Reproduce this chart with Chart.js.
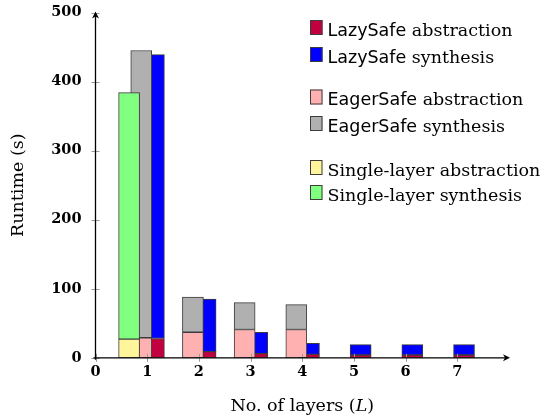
<!DOCTYPE html>
<html>
<head>
<meta charset="utf-8">
<script src="https://cdn.jsdelivr.net/npm/chart.js@4.4.0/dist/chart.umd.min.js"></script>
<style>
  html, body { margin: 0; padding: 0; background: #fff; }
  #runtimeChart { display: block; }
</style>
</head>
<body>
<canvas id="runtimeChart" width="548" height="418"></canvas>
<script>
// Values (seconds)
const lazyLayers = [1, 2, 3, 4, 5, 6, 7];
const lazyAbstraction = [28, 9, 6, 5, 4, 4, 4];
const lazySynthesis = [411, 76, 31, 16, 15, 15, 15];

const eagerLayers = [1, 2, 3, 4];
const eagerAbstraction = [29, 37, 41, 41];
const eagerSynthesis = [416, 51, 39, 36];

const singleLayers = [1];
const singleAbstraction = [27];
const singleSynthesis = [357];

const xTickValues = [0, 1, 2, 3, 4, 5, 6, 7];
const yTickValues = [0, 100, 200, 300, 400, 500];

const serif = "'DejaVu Serif', serif";
const sans = "'DejaVu Sans', sans-serif";

// builds one stacked bar segment series, shifted beside the layer tick
function series(method, phase, layers, values, shift, color, order, sansName) {
    return {
        label: method + " " + phase,
        method: method,
        phase: phase,
        sansName: sansName,
        data: layers.map((l, i) => ({ x: l + shift, y: values[i] })),
        backgroundColor: color,
        borderColor: "#3c3c3c",
        borderWidth: 1,
        borderSkipped: false,
        stack: method,
        order: order
    };
}

const datasets = [
    series("LazySafe", "abstraction", lazyLayers, lazyAbstraction, 0.13, "#c20040", 3, true),
    series("LazySafe", "synthesis", lazyLayers, lazySynthesis, 0.13, "#0000ff", 3, true),
    series("EagerSafe", "abstraction", eagerLayers, eagerAbstraction, -0.115, "#ffb0b0", 2, true),
    series("EagerSafe", "synthesis", eagerLayers, eagerSynthesis, -0.115, "#b0b0b0", 2, true),
    series("Single-layer", "abstraction", singleLayers, singleAbstraction, -0.35, "#fff59a", 1, false),
    series("Single-layer", "synthesis", singleLayers, singleSynthesis, -0.35, "#80ff80", 1, false)
];

// axis lines with arrows, tick marks, x title and legend
const decorations = {
    id: "decorations",
    afterDatasetsDraw(chart) {
        const { ctx, chartArea: a, scales } = chart;
        ctx.save();
        // tick marks
        ctx.strokeStyle = "#999";
        ctx.lineWidth = 1;
        xTickValues.forEach(v => {
            const x = Math.round(scales.x.getPixelForValue(v)) + 0.5;
            ctx.beginPath();
            ctx.moveTo(x, a.bottom - 4);
            ctx.lineTo(x, a.bottom + 4);
            ctx.stroke();
        });
        yTickValues.forEach(v => {
            const y = Math.round(scales.y.getPixelForValue(v)) + 0.5;
            ctx.beginPath();
            ctx.moveTo(a.left - 4, y);
            ctx.lineTo(a.left + 4, y);
            ctx.stroke();
        });
        // axes
        ctx.strokeStyle = "#000";
        ctx.fillStyle = "#000";
        ctx.lineWidth = 1.3;
        ctx.beginPath();
        ctx.moveTo(a.left - 2, a.bottom);
        ctx.lineTo(a.right - 2, a.bottom);
        ctx.moveTo(a.left, a.bottom + 2);
        ctx.lineTo(a.left, a.top + 2);
        ctx.stroke();
        // arrow heads
        ctx.beginPath();
        ctx.moveTo(a.right + 1, a.bottom);
        ctx.lineTo(a.right - 6, a.bottom - 3.5);
        ctx.lineTo(a.right - 4, a.bottom);
        ctx.lineTo(a.right - 6, a.bottom + 3.5);
        ctx.closePath();
        ctx.fill();
        ctx.beginPath();
        ctx.moveTo(a.left, a.top - 1);
        ctx.lineTo(a.left - 3.5, a.top + 6);
        ctx.lineTo(a.left, a.top + 4);
        ctx.lineTo(a.left + 3.5, a.top + 6);
        ctx.closePath();
        ctx.fill();
        ctx.restore();
    },
    afterDraw(chart) {
        const { ctx, chartArea: a } = chart;
        ctx.save();
        ctx.fillStyle = "#000";
        ctx.textBaseline = "alphabetic";

        // x axis title with italic L
        const parts = [
            { t: "No. of layers (", f: "17.5px " + serif },
            { t: "L", f: "italic 17.5px " + serif },
            { t: ")", f: "17.5px " + serif }
        ];
        let total = 0;
        parts.forEach(p => { ctx.font = p.f; p.w = ctx.measureText(p.t).width; total += p.w; });
        let x = (a.left + a.right) / 2 - total / 2;
        parts.forEach(p => { ctx.font = p.f; ctx.fillText(p.t, x, 411); x += p.w; });

        // legend, grouped by method
        const rows = [27.5, 54.5, 97, 123.5, 167.5, 192.5];
        chart.data.datasets.forEach((ds, i) => {
            const cy = rows[i];
            ctx.fillStyle = ds.backgroundColor;
            ctx.fillRect(310, cy - 7.5, 12.5, 15);
            ctx.strokeStyle = "#3c3c3c";
            ctx.lineWidth = 1;
            ctx.strokeRect(310.5, cy - 7, 11.5, 14);
            ctx.fillStyle = "#000";
            ctx.font = "17.5px " + (ds.sansName ? sans : serif);
            ctx.fillText(ds.method, 327.5, cy + 8);
            const w = ctx.measureText(ds.method).width;
            ctx.font = "17.5px " + serif;
            ctx.fillText(" " + ds.phase, 327.5 + w, cy + 8);
        });
        ctx.restore();
    }
};

new Chart(document.getElementById("runtimeChart"), {
    type: "bar",
    data: { datasets: datasets },
    options: {
        responsive: false,
        animation: false,
        devicePixelRatio: 1,
        grouped: false,
        barThickness: 21,
        layout: { padding: { left: 0, right: 39, top: 12.5, bottom: 0 } },
        plugins: {
            legend: { display: false },
            tooltip: { enabled: false }
        },
        scales: {
            x: {
                type: "linear",
                offset: false,
                min: 0,
                max: 8,
                grid: { display: false, drawTicks: false },
                border: { display: false },
                afterBuildTicks: s => { s.ticks = xTickValues.map(v => ({ value: v })); },
                afterFit: s => { s.height = 60.2; s.paddingLeft = 0; s.paddingRight = 0; },
                ticks: {
                    padding: 6,
                    color: "#000",
                    font: { family: serif, weight: "bold", size: 14.5 }
                }
            },
            y: {
                stacked: true,
                min: 0,
                max: 500,
                grid: { display: false, drawTicks: false },
                border: { display: false },
                afterBuildTicks: s => { s.ticks = yTickValues.map(v => ({ value: v })); },
                afterFit: s => { s.width = 95.5; s.paddingTop = 0; s.paddingBottom = 0; },
                ticks: {
                    padding: 14,
                    color: "#000",
                    font: { family: serif, weight: "bold", size: 14.5 }
                },
                title: {
                    display: true,
                    text: "Runtime (s)",
                    color: "#000",
                    font: { family: serif, size: 17.5 },
                    padding: { top: 8, bottom: 0 }
                }
            }
        }
    },
    plugins: [decorations]
});
</script>
</body>
</html>
